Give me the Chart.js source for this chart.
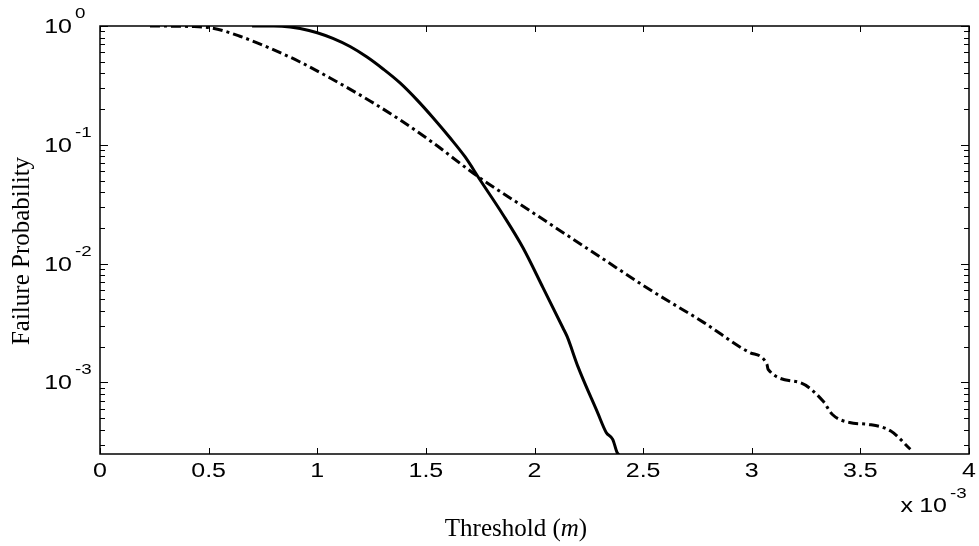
<!DOCTYPE html>
<html>
<head>
<meta charset="utf-8">
<script src="https://cdn.jsdelivr.net/npm/chart.js@4/dist/chart.umd.min.js"></script>
<style>
    html, body { margin: 0; padding: 0; background: #fff; }
    canvas { display: block; }
</style>
</head>
<body>
<canvas id="myChart" width="979" height="546"></canvas>
<script>
// threshold in units of 1e-3 m
var thresholdSolid = [0.70, 0.80, 0.875, 0.921, 1.0, 1.072, 1.151, 1.229, 1.303, 1.381, 1.459, 1.533, 1.611, 1.68, 1.749, 1.855, 1.947, 2.039, 2.13, 2.15, 2.20, 2.29, 2.33, 2.36, 2.38, 2.39];
var probSolid = [1.0, 0.999, 0.982, 0.954, 0.878, 0.786, 0.672, 0.548, 0.435, 0.332, 0.239, 0.169, 0.1146, 0.0794, 0.0508, 0.0258, 0.0136, 0.00628, 0.0029, 0.00244, 0.00136, 0.00056, 0.00038, 0.000332, 0.000258, 0.000245];

var thresholdDashDot = [0.23, 0.42, 0.52, 0.644, 0.783, 0.921, 1.059, 1.243, 1.381, 1.533, 1.735, 1.993, 2.30, 2.53, 2.78, 2.99, 3.07, 3.075, 3.22, 3.33, 3.37, 3.45, 3.54, 3.64, 3.73];
var probDashDot = [1.0, 0.99, 0.958, 0.82, 0.65, 0.498, 0.365, 0.234, 0.162, 0.104, 0.0548, 0.0268, 0.01145, 0.00605, 0.00319, 0.00179, 0.00142, 0.00129, 0.001, 0.00069, 0.00054, 0.00046, 0.000443, 0.00039, 0.000274];

var xTicks = [0, 0.5, 1, 1.5, 2, 2.5, 3, 3.5, 4];
var xTickLabels = ['0', '0.5', '1', '1.5', '2', '2.5', '3', '3.5', '4'];
var yDecades = [1, 0.1, 0.01, 0.001];
var yExponents = ['0', '-1', '-2', '-3'];

var xMin = 0, xMax = 4, yMin = 2.5e-4, yMax = 1;

function toPoints(xs, ys) {
    return xs.map(function (x, i) { return { x: x, y: ys[i] }; });
}

function stretchText(ctx, text, x, y, align, font, sx) {
    ctx.save();
    ctx.translate(x, y);
    ctx.scale(sx, 1);
    ctx.font = font;
    ctx.textAlign = align;
    ctx.textBaseline = 'alphabetic';
    ctx.fillText(text, 0, 0);
    ctx.restore();
}

var SANS = '"Liberation Sans", Arial, sans-serif';
var SERIF = '"Liberation Serif", "Times New Roman", serif';
var SX = 1.25;

var framePlugin = {
    id: 'frame',
    afterDraw: function (chart) {
        var ctx = chart.ctx;
        var a = chart.chartArea;
        var xs = chart.scales.x, ys = chart.scales.y;
        ctx.save();
        ctx.fillStyle = '#000';
        ctx.strokeStyle = '#000';

        // ticks
        ctx.lineWidth = 1;
        ctx.beginPath();
        xTicks.forEach(function (v) {
            var px = Math.round(xs.getPixelForValue(v)) + 0.5;
            ctx.moveTo(px, a.bottom); ctx.lineTo(px, a.bottom - 6);
            ctx.moveTo(px, a.top); ctx.lineTo(px, a.top + 6);
        });
        for (var e = -4; e <= 0; e++) {
            for (var m = 1; m <= 9; m++) {
                var v = m * Math.pow(10, e);
                if (v < yMin || v > yMax) continue;
                var py = Math.round(ys.getPixelForValue(v)) + 0.5;
                var len = m === 1 ? 8 : 5;
                ctx.moveTo(a.left, py); ctx.lineTo(a.left + len, py);
                ctx.moveTo(a.right, py); ctx.lineTo(a.right - len, py);
            }
        }
        ctx.stroke();

        // box
        ctx.lineWidth = 1.5;
        ctx.strokeRect(a.left, a.top, a.right - a.left, a.bottom - a.top);

        // x tick labels
        xTicks.forEach(function (v, i) {
            stretchText(ctx, xTickLabels[i], xs.getPixelForValue(v), a.bottom + 23, 'center', '20px ' + SANS, SX);
        });

        // y tick labels
        yDecades.forEach(function (v, i) {
            var py = ys.getPixelForValue(v);
            stretchText(ctx, '10', 72, py + 7, 'right', '20px ' + SANS, SX);
            stretchText(ctx, yExponents[i], 75, py - 8, 'left', '15px ' + SANS, SX);
        });

        // x multiplier
        stretchText(ctx, 'x', 913, 512, 'right', '20px ' + SANS, SX);
        stretchText(ctx, '10', 947, 512, 'right', '20px ' + SANS, SX);
        stretchText(ctx, '-3', 950, 498, 'left', '15px ' + SANS, SX);

        // x title
        ctx.textBaseline = 'alphabetic';
        ctx.textAlign = 'left';
        var p1 = 'Threshold (', p2 = 'm', p3 = ')';
        ctx.font = '25px ' + SERIF;
        var w1 = ctx.measureText(p1).width, w3 = ctx.measureText(p3).width;
        ctx.font = 'italic 25px ' + SERIF;
        var w2 = ctx.measureText(p2).width;
        var x0 = 516 - (w1 + w2 + w3) / 2;
        ctx.font = '25px ' + SERIF;
        ctx.fillText(p1, x0, 536);
        ctx.font = 'italic 25px ' + SERIF;
        ctx.fillText(p2, x0 + w1, 536);
        ctx.font = '25px ' + SERIF;
        ctx.fillText(p3, x0 + w1 + w2, 536);

        // y title
        ctx.save();
        ctx.translate(29, 251);
        ctx.rotate(-Math.PI / 2);
        ctx.font = '25px ' + SERIF;
        ctx.textAlign = 'center';
        ctx.fillText('Failure Probability', 0, 0);
        ctx.restore();

        ctx.restore();
    }
};

new Chart(document.getElementById('myChart'), {
    type: 'line',
    data: {
        datasets: [{
            label: 'solid',
            data: toPoints(thresholdSolid, probSolid),
            borderColor: '#000',
            borderWidth: 3,
            pointRadius: 0,
            cubicInterpolationMode: 'monotone',
            fill: false
        }, {
            label: 'dash-dot',
            data: toPoints(thresholdDashDot, probDashDot),
            borderColor: '#000',
            borderWidth: 3,
            borderDash: [10, 4, 3, 4],
            pointRadius: 0,
            cubicInterpolationMode: 'monotone',
            fill: false
        }]
    },
    options: {
        responsive: false,
        animation: false,
        devicePixelRatio: 1,
        layout: { padding: { left: 100, top: 26, right: 10, bottom: 92 } },
        scales: {
            x: { type: 'linear', min: xMin, max: xMax, display: false },
            y: { type: 'logarithmic', min: yMin, max: yMax, display: false }
        },
        plugins: {
            legend: { display: false },
            tooltip: { enabled: false }
        }
    },
    plugins: [framePlugin]
});
</script>
</body>
</html>
